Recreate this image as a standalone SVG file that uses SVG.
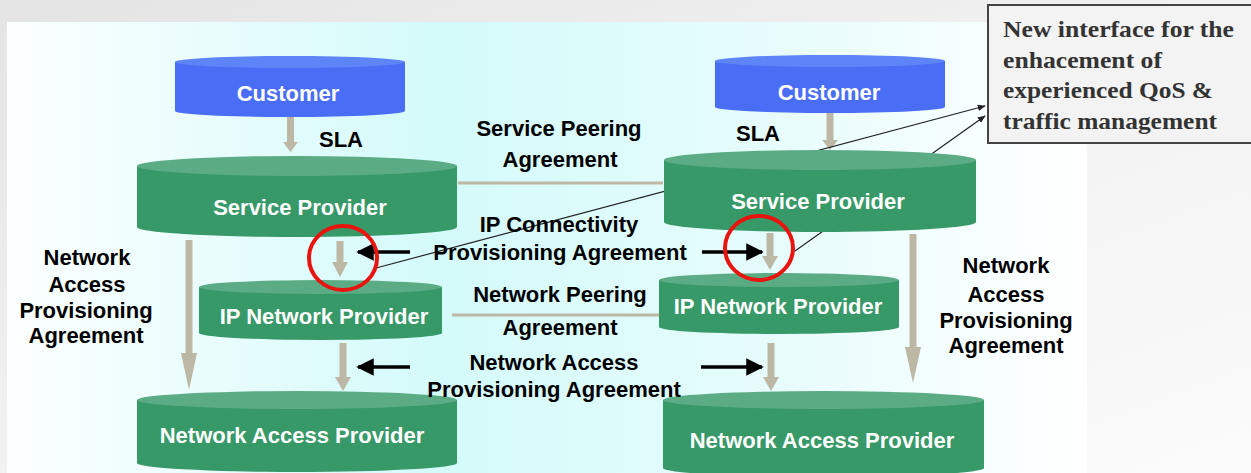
<svg xmlns="http://www.w3.org/2000/svg" width="1251" height="473" viewBox="0 0 1251 473">
<defs>
<linearGradient id="slide" x1="0" y1="0" x2="1" y2="1">
<stop offset="0" stop-color="#e4e4e4"/><stop offset="0.5" stop-color="#f2f2f2"/><stop offset="1" stop-color="#fbfbfb"/>
</linearGradient>
<linearGradient id="panel" x1="0" y1="0" x2="1" y2="0">
<stop offset="0" stop-color="#fcffff"/><stop offset="0.4" stop-color="#d4fafa"/><stop offset="0.7" stop-color="#e6fcfc"/><stop offset="1" stop-color="#ffffff"/>
</linearGradient>
<marker id="blk" viewBox="0 0 10 10" refX="9" refY="5" markerWidth="5" markerHeight="5" orient="auto">
<path d="M0,0 L10,5 L0,10 Z" fill="#000"/>
</marker>
<marker id="thin" viewBox="0 0 10 10" refX="9" refY="5" markerWidth="8" markerHeight="8" orient="auto" markerUnits="userSpaceOnUse">
<path d="M0,1 L10,5 L0,9 Z" fill="#222"/>
</marker>
</defs>
<style>
.blue{fill:#4a6df6}.bluetop{fill:#5e85f8}
.green{fill:#379868}.greentop{fill:#5bac84}
.nt{font-family:"Liberation Sans",Arial,sans-serif;font-weight:bold;font-size:22px;fill:#fff;text-anchor:middle}
.lb{font-family:"Liberation Sans",Arial,sans-serif;font-weight:bold;font-size:22px;fill:#000;text-anchor:middle}
.gar{fill:#bdb7a6}
.peer{stroke:#bdb7a6;stroke-width:3}
.bar{stroke:#000;stroke-width:3.5;marker-end:url(#blk)}
.ring{fill:none;stroke:#e8140f;stroke-width:4}
.tl{stroke:#222;stroke-width:1.2;marker-end:url(#thin)}
.co{font-family:"Liberation Serif","Times New Roman",serif;font-weight:bold;font-size:23px;fill:#333}
</style>
<rect x="0" y="0" width="1251" height="473" fill="url(#slide)"/>
<rect x="7" y="22" width="1080" height="451" fill="url(#panel)"/>

<g id="connectors">
<line class="peer" x1="458" y1="183" x2="663" y2="183"/>
<line class="peer" x1="452" y1="315" x2="659" y2="315"/>
<path class="gar" d="M287,117 H294 V142 H298 L290.5,152 L283,142 H287 Z"/>
<path class="gar" d="M826.5,113 H833.5 V140 H838 L830,150 L822,140 H826.5 Z"/>
<path class="gar" d="M336.5,241 H343.5 V262 H348 L340,277 L332,262 H336.5 Z"/>
<path class="gar" d="M766.5,233 H773.5 V256 H778 L770,270 L762,256 H766.5 Z"/>
<path class="gar" d="M339.5,343 H346.5 V377 H351 L343,391 L335,377 H339.5 Z"/>
<path class="gar" d="M767.5,343 H774.5 V377 H779 L771,391 L763,377 H767.5 Z"/>
<path class="gar" d="M185.5,240 H192.5 V353 H197 L189,390 L181,353 H185.5 Z"/>
<path class="gar" d="M909.5,234 H916.5 V347 H921 L913,383 L905,347 H909.5 Z"/>
<line class="bar" x1="410" y1="252" x2="358" y2="252"/>
<line class="bar" x1="702" y1="252" x2="762" y2="252"/>
<line class="bar" x1="410" y1="367" x2="358" y2="367"/>
<line class="bar" x1="701" y1="367" x2="762" y2="367"/>
<line class="tl" x1="376" y1="268" x2="985" y2="106"/>
<line class="tl" x1="795" y1="251" x2="985" y2="116"/>
</g>

<g id="customer-left">
<path class="blue" d="M175,62 V111 A115,6 0 0 0 405,111 V62 Z"/>
<ellipse class="bluetop" cx="290" cy="62" rx="115" ry="6"/>
<text class="nt" x="288" y="101">Customer</text>
</g>
<g id="customer-right">
<path class="blue" d="M715,61 V107 A115,6 0 0 0 945,107 V61 Z"/>
<ellipse class="bluetop" cx="830" cy="61" rx="115" ry="6"/>
<text class="nt" x="829" y="100">Customer</text>
</g>
<g id="sp-left">
<path class="green" d="M137,166 V227 A160,10 0 0 0 457,227 V166 Z"/>
<ellipse class="greentop" cx="297" cy="166" rx="160" ry="10"/>
<text class="nt" x="300" y="215">Service Provider</text>
</g>
<g id="sp-right">
<path class="green" d="M664,160 V222 A156,10 0 0 0 976,222 V160 Z"/>
<ellipse class="greentop" cx="820" cy="160" rx="156" ry="10"/>
<text class="nt" x="818" y="209">Service Provider</text>
</g>
<g id="ip-left">
<path class="green" d="M199,287 V333 A121.5,7 0 0 0 442,333 V287 Z"/>
<ellipse class="greentop" cx="320.5" cy="287" rx="121.5" ry="7"/>
<text class="nt" x="324" y="324">IP Network Provider</text>
</g>
<g id="ip-right">
<path class="green" d="M659,280 V327 A120,7 0 0 0 899,327 V280 Z"/>
<ellipse class="greentop" cx="779" cy="280" rx="120" ry="7"/>
<text class="nt" x="778" y="314">IP Network Provider</text>
</g>
<g id="nap-left">
<path class="green" d="M137,400 V463 A160,9 0 0 0 457,463 V400 Z"/>
<ellipse class="greentop" cx="297" cy="400" rx="160" ry="9"/>
<text class="nt" x="292" y="443">Network Access Provider</text>
</g>
<g id="nap-right">
<path class="green" d="M663,400 V468 A160.5,9 0 0 0 984,468 V400 Z"/>
<ellipse class="greentop" cx="823.5" cy="400" rx="160.5" ry="9"/>
<text class="nt" x="822" y="448">Network Access Provider</text>
</g>

<g id="labels">
<text class="lb" x="341" y="147">SLA</text>
<text class="lb" x="758" y="141">SLA</text>
<text class="lb" x="559" y="136">Service Peering</text>
<text class="lb" x="560" y="167">Agreement</text>
<text class="lb" x="559" y="232">IP Connectivity</text>
<text class="lb" x="560" y="260">Provisioning Agreement</text>
<text class="lb" x="560" y="302">Network Peering</text>
<text class="lb" x="560" y="335">Agreement</text>
<text class="lb" x="554" y="370">Network Access</text>
<text class="lb" x="554" y="397">Provisioning Agreement</text>
<text class="lb" x="87" y="265">Network</text>
<text class="lb" x="87" y="292">Access</text>
<text class="lb" x="86" y="318">Provisioning</text>
<text class="lb" x="86" y="343">Agreement</text>
<text class="lb" x="1006" y="273">Network</text>
<text class="lb" x="1006" y="302">Access</text>
<text class="lb" x="1006" y="328">Provisioning</text>
<text class="lb" x="1006" y="353">Agreement</text>
</g>

<g id="rings">
<ellipse class="ring" cx="343" cy="258" rx="34" ry="32"/>
<ellipse class="ring" cx="759" cy="248" rx="34" ry="32"/>
</g>

<g id="callout">
<rect x="988" y="5" width="270" height="138" fill="#f3f3f3" stroke="#444" stroke-width="2"/>
<text class="co" x="1003" y="37" textLength="231" lengthAdjust="spacingAndGlyphs">New interface for the</text>
<text class="co" x="1003" y="68" textLength="159" lengthAdjust="spacingAndGlyphs">enhacement of</text>
<text class="co" x="1003" y="98" textLength="210" lengthAdjust="spacingAndGlyphs">experienced QoS &amp;</text>
<text class="co" x="1003" y="129" textLength="214" lengthAdjust="spacingAndGlyphs">traffic management</text>
</g>
</svg>
